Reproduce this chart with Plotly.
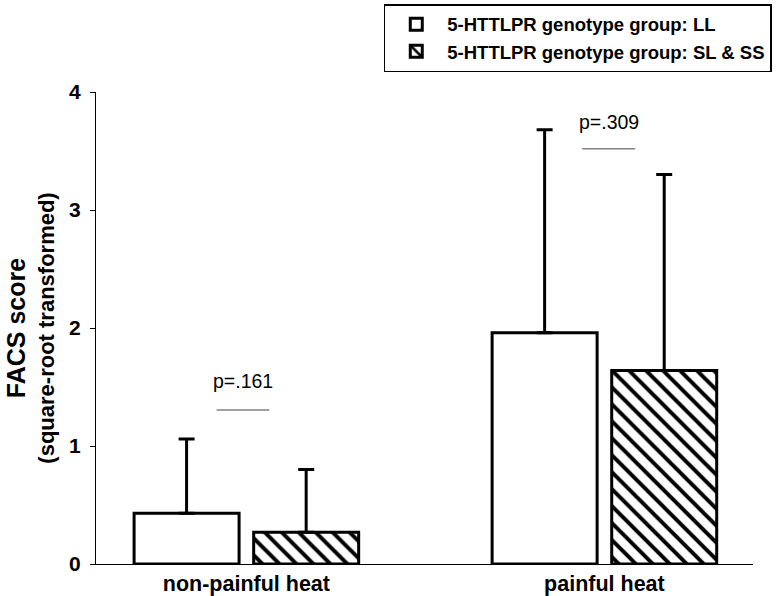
import plotly.graph_objects as go

categories = ["non-painful heat", "painful heat"]
series_names = ["5-HTTLPR genotype group: LL", "5-HTTLPR genotype group: SL &amp; SS"]
ll_means = [0.43, 1.96]
ll_sd = [0.63, 1.72]
ss_means = [0.27, 1.64]
ss_sd = [0.53, 1.66]
p_labels = ["p=.161", "p=.309"]
y_ticks = [0, 1, 2, 3, 4]

FONT = "Arial, Liberation Sans, sans-serif"

fig = go.Figure()
fig.add_trace(go.Bar(
    x=categories, y=ll_means, name=series_names[0],
    marker=dict(color="white", line=dict(color="black", width=3)),
    error_y=dict(type="data", array=ll_sd, arrayminus=[0, 0], symmetric=False,
                 color="black", thickness=3, width=8),
))
fig.add_trace(go.Bar(
    x=categories, y=ss_means, name=series_names[1],
    marker=dict(color="white", line=dict(color="black", width=3),
                pattern=dict(shape="\\", fgcolor="black", bgcolor="white",
                             size=12, solidity=0.33, fillmode="replace")),
    error_y=dict(type="data", array=ss_sd, arrayminus=[0, 0], symmetric=False,
                 color="black", thickness=3, width=8),
))

# significance markers
p_line_x = [(-0.083, 0.064), (1 - 0.062, 1.086)]
p_line_y = [1.305, 3.52]
p_text_x = [-0.01, 1.013]
p_text_y = [1.55, 3.75]
for i in range(2):
    fig.add_shape(type="line", xref="x", yref="y",
                  x0=p_line_x[i][0], x1=p_line_x[i][1], y0=p_line_y[i], y1=p_line_y[i],
                  line=dict(color="#808080", width=1.5))
    fig.add_annotation(x=p_text_x[i], y=p_text_y[i], xref="x", yref="y",
                       text=p_labels[i], showarrow=False,
                       font=dict(family=FONT, size=19.5, color="black"))

fig.update_layout(
    width=778, height=596,
    margin=dict(l=96, r=25, t=92, b=32, autoexpand=False),
    paper_bgcolor="white", plot_bgcolor="white",
    barmode="group", bargap=0.332, bargroupgap=0.122,
    showlegend=True,
    legend=dict(x=0.438, y=1.186, xanchor="left", yanchor="top",
                bordercolor="black", borderwidth=1.5, bgcolor="white",
                itemwidth=52, tracegroupgap=0,
                font=dict(family=FONT, size=18.5, color="black", weight="bold"),
                traceorder="normal"),
    font=dict(family=FONT, color="black"),
)
fig.update_xaxes(
    range=[-0.42, 1.415], showline=True, linecolor="black", linewidth=1,
    ticks="", ticklabelstandoff=0,
    tickfont=dict(family=FONT, size=21.5, color="black", weight="bold"),
    showgrid=False, zeroline=False,
)
fig.update_yaxes(
    range=[0, 4], tickvals=y_ticks, showline=True, linecolor="black", linewidth=1,
    ticks="outside", ticklen=5, tickcolor="black", tickwidth=1, ticklabelstandoff=5,
    tickfont=dict(family=FONT, size=21, color="black", weight="bold"),
    showgrid=False, zeroline=False,
    title=dict(text="<b><span style='font-size:25px'>FACS score</span><br>"
                    "<span style='font-size:22px'>(square-root transformed)</span></b>",
               font=dict(family=FONT, size=22, color="black"), standoff=8),
)

fig.write_html("out.html",
               config={"displayModeBar": False},
               post_script="document.body.style.margin='0px';"
                           "document.body.style.overflow='hidden';")
